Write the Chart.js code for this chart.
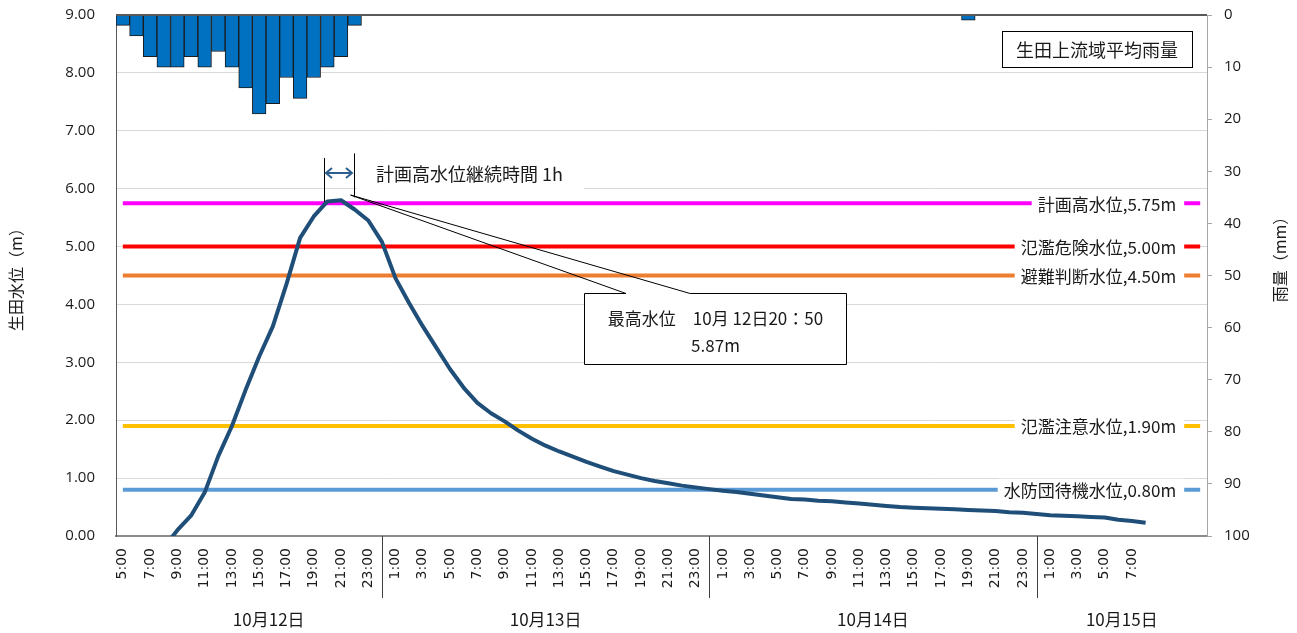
<!DOCTYPE html>
<html>
<head>
<meta charset="utf-8">
<script src="https://cdn.jsdelivr.net/npm/chart.js@4/dist/chart.umd.min.js"></script>
<style>
html,body{margin:0;padding:0;background:#fff;}
#wrap{width:1297px;height:633px;position:relative;}
</style>
</head>
<body>
<div id="wrap"><canvas id="c" width="1297" height="633"></canvas></div>
<script>
// ---- categories (hourly, 10/12 5:00 .. 10/15 8:00, plus blank rows) ----
const categories = [
  '5:00','6:00','7:00','8:00','9:00','10:00','11:00','12:00','13:00','14:00',
  '15:00','16:00','17:00','18:00','19:00','20:00','21:00','22:00','23:00','24:00',
  '1:00','2:00','3:00','4:00','5:00','6:00','7:00','8:00','9:00','10:00','11:00','12:00',
  '13:00','14:00','15:00','16:00','17:00','18:00','19:00','20:00','21:00','22:00','23:00','24:00',
  '1:00','2:00','3:00','4:00','5:00','6:00','7:00','8:00','9:00','10:00','11:00','12:00',
  '13:00','14:00','15:00','16:00','17:00','18:00','19:00','20:00','21:00','22:00','23:00','24:00',
  '1:00','2:00','3:00','4:00','5:00','6:00','7:00','8:00','','','',''
];
const days = ['10月12日','10月13日','10月14日','10月15日'];
const dayBreaks = [19, 43, 67];

// ---- water level (m) ----
const waterLevel = [
  -0.60,-0.50,-0.40,-0.20, 0.10, 0.35, 0.75, 1.38, 1.90, 2.52,
   3.10, 3.62, 4.35, 5.15, 5.52, 5.78, 5.80, 5.64, 5.45, 5.08,
   4.45, 4.02, 3.62, 3.25, 2.88, 2.56, 2.30, 2.12, 1.98, 1.82,
   1.68, 1.56, 1.46, 1.37, 1.28, 1.20, 1.12, 1.06, 1.00, 0.95,
   0.91, 0.87, 0.84, 0.81, 0.78, 0.76, 0.73, 0.70, 0.67, 0.64,
   0.63, 0.61, 0.60, 0.58, 0.56, 0.54, 0.52, 0.50, 0.49, 0.48,
   0.47, 0.46, 0.45, 0.44, 0.43, 0.41, 0.40, 0.38, 0.36, 0.35,
   0.34, 0.33, 0.32, 0.28, 0.26, 0.23, null, null, null, null
];

// ---- rainfall (mm/h) ----
const rainfall = [
   2, 4, 8,10,10, 8,10, 7,10,14,
  19,17,12,16,12,10, 8, 2, 0, 0,
   0, 0, 0, 0, 0, 0, 0, 0, 0, 0,
   0, 0, 0, 0, 0, 0, 0, 0, 0, 0,
   0, 0, 0, 0, 0, 0, 0, 0, 0, 0,
   0, 0, 0, 0, 0, 0, 0, 0, 0, 0,
   0, 0, 1, 0, 0, 0, 0, 0, 0, 0,
   0, 0, 0, 0, 0, 0, 0, 0, 0, 0
];

// ---- reference water levels ----
const thresholdNames  = ['計画高水位,5.75m','氾濫危険水位,5.00m','避難判断水位,4.50m','氾濫注意水位,1.90m','水防団待機水位,0.80m'];
const thresholdValues = [5.75, 5.00, 4.50, 1.90, 0.80];
const thresholdColors = ['#FF00FF','#FF0000','#ED7D31','#FFC000','#5B9BD5'];

// ---- annotations ----
const peakText = ['最高水位　10月 12日20：50', '5.87m'];
const durationText = '計画高水位継続時間 1h';
const rainBoxText = '生田上流域平均雨量';
const leftTitle = '生田水位（m）';
const rightTitle = '雨量（mm）';

const JP = "'Noto Sans CJK JP', 'Noto Sans', sans-serif";
const TXT = '#1a1a1a';

const datasets = [
  {
    type: 'line', label: '水位', data: waterLevel, yAxisID: 'y',
    borderColor: '#1F4E79', borderWidth: 4, pointRadius: 0, tension: 0,
    borderJoinStyle: 'round', clip: 0, order: 0
  }
];
thresholdValues.forEach((v, i) => {
  datasets.push({
    type: 'line', label: thresholdNames[i], data: categories.map(() => v), yAxisID: 'y',
    borderColor: thresholdColors[i], borderWidth: 4, pointRadius: 0, order: 1
  });
});
datasets.push({
  type: 'bar', label: '雨量', data: rainfall, yAxisID: 'y2',
  backgroundColor: '#0070C0', borderColor: '#1a1a1a', borderWidth: 1,
  barPercentage: 1, categoryPercentage: 1, order: 2
});

const overlay = {
  id: 'overlay',
  afterDatasetsDraw(chart) {
    const {ctx, chartArea: ca, scales} = chart;
    const x = scales.x, y = scales.y;
    ctx.save();
    // top frame line
    ctx.strokeStyle = '#595959'; ctx.lineWidth = 2;
    ctx.beginPath(); ctx.moveTo(ca.left, ca.top); ctx.lineTo(ca.right, ca.top); ctx.stroke();

    // threshold labels
    ctx.font = '17px ' + JP;
    ctx.textBaseline = 'middle';
    ctx.textAlign = 'right';
    const lastX = x.getPixelForValue(categories.length - 1);
    thresholdValues.forEach((v, i) => {
      const py = y.getPixelForValue(v);
      const t = thresholdNames[i];
      const w = ctx.measureText(t).width;
      const right = lastX - 24;
      ctx.fillStyle = '#fff';
      ctx.fillRect(right - w - 6, py - 11, w + 14, 22);
      ctx.fillStyle = TXT;
      ctx.fillText(t, right, py + 1);
    });

    // rain legend box
    const bw = 190, bh = 36;
    const bx = ca.right - 205, by = ca.top + 16;
    ctx.fillStyle = '#fff';
    ctx.fillRect(bx, by, bw, bh);
    ctx.strokeStyle = '#000'; ctx.lineWidth = 1;
    ctx.strokeRect(bx + 0.5, by + 0.5, bw, bh);
    ctx.fillStyle = TXT; ctx.textAlign = 'center';
    ctx.font = '18px ' + JP;
    ctx.fillText(rainBoxText, bx + bw / 2, by + bh / 2 + 1);

    // duration annotation
    const xL = x.getPixelForValue(14.75), xR = x.getPixelForValue(16.95);
    const ay = y.getPixelForValue(6.27);
    ctx.font = '18px ' + JP;
    const tw = ctx.measureText(durationText).width;
    ctx.fillStyle = '#fff';
    ctx.fillRect(xR + 3, ay - 15, tw + 40, 32);
    ctx.fillStyle = TXT; ctx.textAlign = 'left';
    ctx.fillText(durationText, xR + 22, ay + 1);
    ctx.strokeStyle = '#000'; ctx.lineWidth = 1;
    ctx.beginPath();
    ctx.moveTo(Math.round(xL) + 0.5, y.getPixelForValue(6.53));
    ctx.lineTo(Math.round(xL) + 0.5, y.getPixelForValue(5.77));
    ctx.moveTo(Math.round(xR) + 0.5, y.getPixelForValue(6.61));
    ctx.lineTo(Math.round(xR) + 0.5, y.getPixelForValue(5.85));
    ctx.stroke();
    ctx.strokeStyle = '#2E5E8E'; ctx.lineWidth = 2;
    ctx.beginPath();
    ctx.moveTo(xL + 2, ay); ctx.lineTo(xR - 2, ay);
    ctx.moveTo(xL + 8, ay - 5); ctx.lineTo(xL + 2, ay); ctx.lineTo(xL + 8, ay + 5);
    ctx.moveTo(xR - 8, ay - 5); ctx.lineTo(xR - 2, ay); ctx.lineTo(xR - 8, ay + 5);
    ctx.stroke();

    // peak callout
    const tipX = x.getPixelForValue(16.7), tipY = y.getPixelForValue(5.89);
    const L = Math.round(x.getPixelForValue(33.8)) + 0.5, R = Math.round(x.getPixelForValue(53.0)) + 0.5;
    const T = Math.round(y.getPixelForValue(4.20)) + 0.5, B = Math.round(y.getPixelForValue(2.97)) + 0.5;
    const b1 = x.getPixelForValue(36.9), b2 = x.getPixelForValue(41.6);
    ctx.fillStyle = '#fff';
    ctx.fillRect(L, T, R - L, B - T);
    ctx.strokeStyle = '#000'; ctx.lineWidth = 1;
    ctx.beginPath();
    ctx.moveTo(b1, T); ctx.lineTo(L, T); ctx.lineTo(L, B); ctx.lineTo(R, B); ctx.lineTo(R, T);
    ctx.lineTo(b2, T); ctx.lineTo(tipX, tipY); ctx.lineTo(b1, T);
    ctx.stroke();
    ctx.fillStyle = TXT; ctx.textAlign = 'center';
    ctx.font = '17px ' + JP;
    ctx.fillText(peakText[0], (L + R) / 2, T + 25);
    ctx.fillText(peakText[1], (L + R) / 2, T + 52);
    ctx.restore();
  },
  afterDraw(chart) {
    const {ctx, chartArea: ca, scales} = chart;
    const x = scales.x;
    ctx.save();
    // day separators
    ctx.strokeStyle = '#404040'; ctx.lineWidth = 1;
    dayBreaks.forEach(b => {
      const px = Math.round(x.getPixelForValue(b)) + 0.5;
      ctx.beginPath(); ctx.moveTo(px, ca.bottom); ctx.lineTo(px, ca.bottom + 62); ctx.stroke();
    });
    // day labels (centred on each day's group of hours)
    ctx.fillStyle = TXT; ctx.font = '17px ' + JP;
    ctx.textAlign = 'center'; ctx.textBaseline = 'middle';
    const bounds = [2.4].concat(dayBreaks, [categories.length - 0.5]);
    days.forEach((d, i) => {
      const c = (bounds[i] + bounds[i + 1]) / 2;
      ctx.fillText(d, x.getPixelForValue(c), ca.bottom + 84);
    });
    // right axis title
    ctx.translate(chart.width - 17, (ca.top + ca.bottom) / 2 - 20);
    ctx.rotate(-Math.PI / 2);
    ctx.font = '16px ' + JP;
    ctx.fillText(rightTitle, 0, 0);
    ctx.restore();
  }
};

new Chart(document.getElementById('c'), {
  type: 'bar',
  data: { labels: categories, datasets },
  options: {
    responsive: false,
    animation: false,
    layout: { padding: { top: 15, left: 0, right: 0, bottom: 0 } },
    plugins: { legend: { display: false }, tooltip: { enabled: false } },
    scales: {
      x: {
        type: 'category', offset: true,
        grid: { display: false, drawTicks: false },
        border: { display: true, color: '#8C8C8C', width: 2 },
        ticks: {
          autoSkip: false, maxRotation: 90, minRotation: 90, padding: 12,
          color: TXT, font: { family: 'DejaVu Sans', size: 14 },
          callback: (v, i) => (i % 2 === 0 ? categories[i] : '')
        },
        afterFit: s => { s.height = 97; s.paddingLeft = 0; s.paddingRight = 0; }
      },
      y: {
        position: 'left', min: 0, max: 9,
        grid: { color: '#D9D9D9', lineWidth: 1, drawTicks: false },
        border: { display: true, color: '#595959', width: 1 },
        ticks: {
          stepSize: 1, padding: 21, color: TXT,
          font: { family: "'Open Sans'", size: 15 },
          callback: v => Number(v).toFixed(2)
        },
        title: {
          display: true, text: leftTitle, color: TXT,
          font: { family: JP, size: 16 }, padding: { top: 6, bottom: 0 }
        },
        afterFit: s => { s.width = 116; s.paddingTop = 0; s.paddingBottom = 0; }
      },
      y2: {
        position: 'right', min: 0, max: 100, reverse: true,
        grid: { drawOnChartArea: false, drawTicks: true, tickLength: 5, color: '#A6A6A6' },
        border: { display: true, color: '#A6A6A6', width: 1 },
        ticks: {
          stepSize: 10, padding: 12, color: TXT,
          font: { family: "'Open Sans'", size: 15 }
        },
        afterFit: s => { s.width = 90; s.paddingTop = 0; s.paddingBottom = 0; }
      }
    }
  },
  plugins: [overlay]
});
</script>
</body>
</html>
